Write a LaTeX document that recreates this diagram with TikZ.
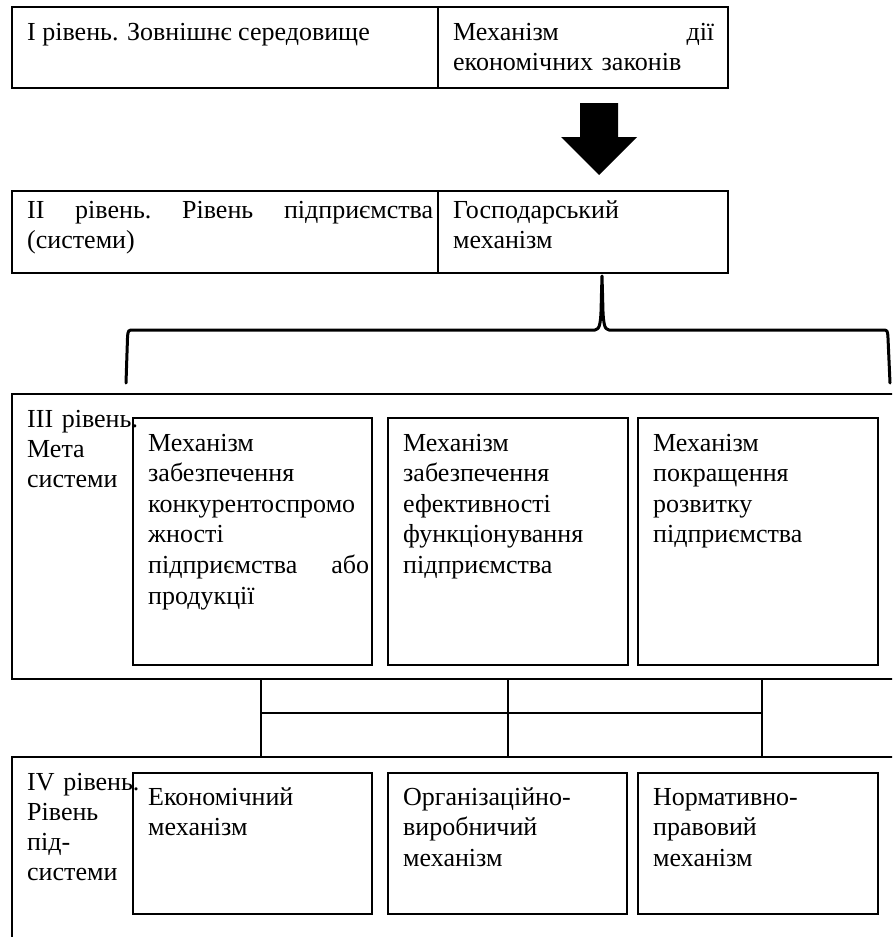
\documentclass[tikz,border=0pt]{standalone}
\usepackage{fontspec}
\setmainfont{Liberation Serif}
\begin{document}
\begin{tikzpicture}[x=1pt,y=-1pt,
  frame/.style={draw,line width=1.9pt},
  inbox/.style={draw,line width=1.2pt},
  tx/.style={font=\fontsize{26}{30.6}\selectfont, inner sep=0pt, anchor=base west, align=left},
  conn/.style={line width=1.5pt},
  brace/.style={line width=3pt,line join=round,line cap=round}]
\useasboundingbox (0,0) rectangle (892,937);
\clip (0,0) rectangle (892,937);
% level I
\draw[frame] (12,7) rectangle (728,88);
\draw[frame] (438,7) -- (438,88);
\node[tx] (t1a) at (27,40) {I рівень. Зовнішнє середовище};
\node[tx,text width=261pt] (t1b) at (453,40) {Механізм\hfill дії\\економічних законів};
% arrow
\fill (580,103) -- (618,103) -- (618,137) -- (637,137) -- (599,175) -- (561,137) -- (580,137) -- cycle;
% level II
\draw[frame] (12,191) rectangle (728,273);
\draw[frame] (438,191) -- (438,273);
\node[tx,text width=406pt] (t2a) at (27,218) {II\hfill рівень.\hfill Рівень\hfill підприємства\\(системи)};
\node[tx,text width=261pt] (t2b) at (453,218) {Господарський\\механізм};
% brace
\coordinate (bl) at (126,383);
\coordinate (bc) at (602,276);
\coordinate (br) at (890,383);
\draw[brace] (bl) -- (127.5,338) .. controls (128,330) .. (134,330) -- (595,330)
  .. controls (600,330) and (601,322) .. (601.3,300) -- (bc)
  -- (602.7,300) .. controls (603,322) and (604,330) .. (609,330) -- (882,330)
  .. controls (887.5,330) .. (888,338) -- (br);
% level III
\draw[frame] (930,394) -- (12,394) -- (12,679) -- (930,679);
\node[tx,text width=160pt,font=\fontsize{26}{30}\selectfont] (t3) at (27,427) {III рівень.\\Мета\\системи};
\draw[inbox] (133,418) rectangle (372,665);
\draw[inbox] (388,418) rectangle (628,665);
\draw[inbox] (638,418) rectangle (878,665);
\node[tx,text width=221pt] (a) at (148,451) {Механізм\\забезпечення\\конкурентоспромо\\жності\\підприємства\hfill або\\продукції};
\node[tx,text width=221pt] (b) at (403,451) {Механізм\\забезпечення\\ефективності\\функціонування\\підприємства};
\node[tx,text width=221pt] (c) at (653,451) {Механізм\\покращення\\розвитку\\підприємства};
% connectors
\coordinate (u1) at (261,679); \coordinate (d1) at (261,757);
\coordinate (u2) at (508,679); \coordinate (d2) at (508,757);
\coordinate (u3) at (762,679); \coordinate (d3) at (762,757);
\coordinate (h1) at (261,713); \coordinate (h3) at (762,713);
\draw[conn] (u1) -- (d1);
\draw[conn] (u2) -- (d2);
\draw[conn] (u3) -- (d3);
\draw[conn] (h1) -- (h3);
% level IV
\draw[frame] (930,757) -- (12,757) -- (12,960);
\node[tx,text width=160pt,font=\fontsize{26}{30.3}\selectfont] (t4) at (27,790) {IV рівень.\\Рівень\\під-\\системи};
\draw[inbox] (133,773) rectangle (372,914);
\draw[inbox] (388,773) rectangle (627,914);
\draw[inbox] (638,773) rectangle (878,914);
\node[tx,text width=221pt] (d) at (148,805) {Економічний\\механізм};
\node[tx,text width=221pt] (e) at (403,805) {Організаційно-\\виробничий\\механізм};
\node[tx,text width=221pt] (f) at (653,805) {Нормативно-\\правовий\\механізм};
\end{tikzpicture}
\end{document}
